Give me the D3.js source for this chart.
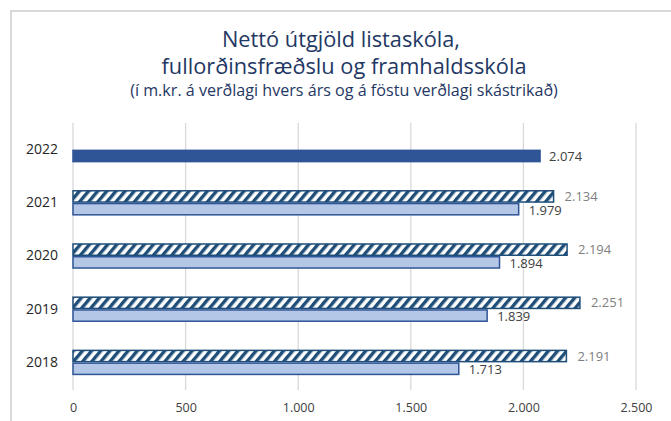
<!DOCTYPE html>
<html>
<head>
<meta charset="utf-8">
<script src="https://cdn.jsdelivr.net/npm/d3@7"></script>
<style>
  body { margin: 0; background: #fff; }
  svg { display: block; font-family: "Open Sans", "Noto Sans", sans-serif; }
</style>
</head>
<body>
<svg id="chart" width="671" height="421"></svg>
<script>
// data
const years = ['2018', '2019', '2020', '2021', '2022']
const currentPrices = [1713, 1839, 1894, 1979, 2074] // verðlag hvers árs
const fixedPrices = [2191, 2251, 2194, 2134, null] // föst verðlag (skástrikað)
const xTicks = [0, 500, 1000, 1500, 2000, 2500]
const titleLines = ['Nettó útgjöld listaskóla,', 'fullorðinsfræðslu og framhaldsskóla']
const subtitle = '(í m.kr. á verðlagi hvers árs og á föstu verðlagi skástrikað)'

const svg = d3.select('#chart')
const fmt = v => d3.format(',')(v).replace(/,/g, '.') // icelandic thousands sep

// squeeze/stretch font size so text fits a measured width (no Calibri here)
const fitText = (sel, w) => {
  const size = parseFloat(sel.attr('font-size'))
  const len = sel.node().getComputedTextLength()
  sel.attr('font-size', (size * w / len).toFixed(2))
}

// chart frame
svg.append('rect')
  .attr('x', 11).attr('y', 11).attr('width', 680).attr('height', 430)
  .attr('fill', 'none').attr('stroke', '#d9d9d9').attr('stroke-width', 2)

// hatch pattern for fixed price bars
const defs = svg.append('defs')
const pat = defs.append('pattern')
  .attr('id', 'hatch').attr('patternUnits', 'userSpaceOnUse')
  .attr('width', 7).attr('height', 7)
  .attr('patternTransform', 'rotate(40)')
pat.append('rect').attr('width', 7).attr('height', 7).attr('fill', '#fff')
pat.append('rect').attr('width', 3.4).attr('height', 7).attr('fill', '#1f4e79')

// titles
const t1 = svg.append('text').attr('x', 341).attr('y', 47).attr('text-anchor', 'middle')
  .attr('fill', '#1f3864').attr('font-size', 20).text(titleLines[0])
fitText(t1, 238)
const t2 = svg.append('text').attr('x', 344).attr('y', 74).attr('text-anchor', 'middle')
  .attr('fill', '#1f3864').attr('font-size', 20).text(titleLines[1])
fitText(t2, 365)
const t3 = svg.append('text').attr('x', 344).attr('y', 96).attr('text-anchor', 'middle')
  .attr('fill', '#1f3864').attr('font-size', 13).text(subtitle)
fitText(t3, 428)

const x = d3.scaleLinear().domain([0, 2500]).range([73, 636])
const y = d3.scaleBand().domain(years.slice().reverse()).range([123, 389])
  .paddingInner(0.52).paddingOuter(0.26)
const ySub = d3.scaleBand().domain(['fixed', 'current']).range([0, y.bandwidth()])

// gridlines
svg.append('g').selectAll('line').data(xTicks).join('line')
  .attr('x1', d => x(d)).attr('x2', d => x(d))
  .attr('y1', 123).attr('y2', 390)
  .attr('stroke', '#d9d9d9').attr('stroke-width', 1.3)

// x axis labels
const xAxis = svg.append('g').attr('transform', 'translate(0,408)')
  .call(d3.axisBottom(x).tickValues(xTicks).tickSize(0).tickFormat(fmt))
xAxis.select('.domain').remove()
xAxis.selectAll('text').attr('fill', '#404040').attr('font-size', 12.5)
  .attr('dy', '0.32em').attr('y', 0).attr('font-family', '"Open Sans", sans-serif')

// y axis labels
const yAxis = svg.append('g').attr('transform', 'translate(42,0)')
  .call(d3.axisLeft(y).tickSize(0))
yAxis.select('.domain').remove()
yAxis.selectAll('text').attr('fill', '#262626').attr('font-size', 14)
  .attr('text-anchor', 'middle').attr('x', 0).attr('font-family', '"Open Sans", sans-serif')

const rows = years.map((yr, i) => ({ yr, cur: currentPrices[i], fix: fixedPrices[i] }))
const bars = svg.append('g')

// fixed price bars (hatched)
const fixedRows = rows.filter(d => d.fix != null)
bars.selectAll('.fix').data(fixedRows).join('rect')
  .attr('class', 'fix')
  .attr('x', x(0)).attr('y', d => y(d.yr) + ySub('fixed') + 0.75)
  .attr('width', d => x(d.fix) - x(0)).attr('height', ySub.bandwidth() - 1.5)
  .attr('fill', 'url(#hatch)').attr('stroke', '#1f4e79').attr('stroke-width', 1.5)

// current price bars
bars.selectAll('.cur').data(rows).join('rect')
  .attr('class', 'cur')
  .attr('x', x(0)).attr('y', d => y(d.yr) + ySub('current') + 0.75)
  .attr('width', d => x(d.cur) - x(0)).attr('height', ySub.bandwidth() - 1.5)
  .attr('fill', d => d.fix == null ? '#2f5597' : '#b4c7e7')
  .attr('stroke', '#2f5597').attr('stroke-width', 1.5)

// data labels
svg.append('g').selectAll('text').data(fixedRows).join('text')
  .attr('x', d => x(d.fix) + 11).attr('y', d => y(d.yr) + ySub('fixed') + ySub.bandwidth() / 2)
  .attr('dy', '0.35em').attr('fill', '#7f7f7f').attr('font-size', 13)
  .text(d => fmt(d.fix))
svg.append('g').selectAll('text').data(rows).join('text')
  .attr('x', d => x(d.cur) + (d.fix == null ? 9 : 10))
  .attr('y', d => y(d.yr) + ySub('current') + ySub.bandwidth() / 2 + (d.fix == null ? 0 : 1))
  .attr('dy', '0.35em').attr('fill', '#404040').attr('font-size', 13)
  .text(d => fmt(d.cur))
</script>
</body>
</html>
